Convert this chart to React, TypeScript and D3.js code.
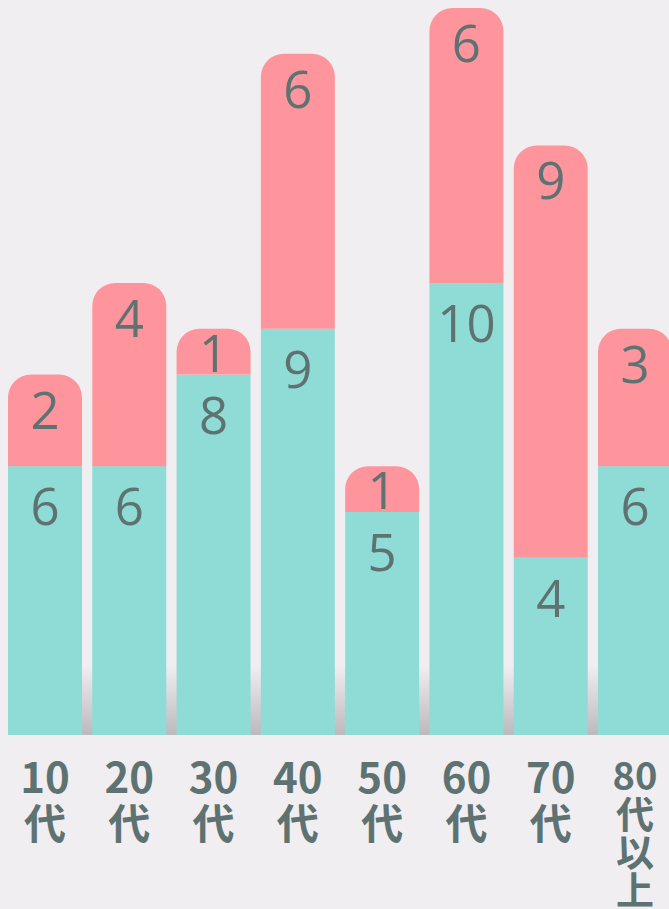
import React from "react";
import * as d3 from "d3";

const categories = ["10代", "20代", "30代", "40代", "50代", "60代", "70代", "80代以上"];
const tealValues = [6, 6, 8, 9, 5, 10, 4, 6];
const pinkValues = [2, 4, 1, 6, 1, 6, 9, 3];

const W = 669;
const H = 909;
const FLOOR = 735;
const TEAL = "#8fdbd5";
const PINK = "#fe959c";
const BG = "#f0eef1";
const TEXT = "#5f7272";

function topRoundedRect(x: number, y: number, w: number, h: number, r: number) {
  const rr = Math.min(r, w / 2, h);
  return `M${x},${y + h}V${y + rr}A${rr},${rr} 0 0 1 ${x + rr},${y}H${x + w - rr}A${rr},${rr} 0 0 1 ${x + w},${y + rr}V${y + h}Z`;
}

export default function App() {
  const x = d3.scaleBand<string>().domain(categories).range([8, 672]).paddingInner(0.122).paddingOuter(0);
  const y = d3.scaleLinear().domain([0, 16]).range([741, 8]);
  const bw = x.bandwidth();

  return (
    <svg
      width={W}
      height={H}
      style={{ position: "absolute", left: 0, top: 0, background: BG }}
    >
      <defs>
        <linearGradient id="floor" x1="0" y1="0" x2="0" y2="1">
          <stop offset="0" stopColor="#000" stopOpacity={0} />
          <stop offset="1" stopColor="#000" stopOpacity={0.22} />
        </linearGradient>
      </defs>
      <rect x={0} y={0} width={W} height={H} fill={BG} />
      <rect x={8} y={665} width={W - 8} height={FLOOR - 665} fill="url(#floor)" />
      {categories.map((c, i) => {
        const bx = x(c)!;
        const tTop = y(tealValues[i]);
        const pTop = y(tealValues[i] + pinkValues[i]);
        const pH = tTop - pTop;
        return (
          <g key={c}>
            <rect x={bx} y={tTop} width={bw} height={FLOOR - tTop} fill={TEAL} />
            <path d={topRoundedRect(bx, pTop, bw, pH, 23)} fill={PINK} />
            <text
              x={bx + bw / 2}
              y={pTop + Math.min(34, pH / 2)}
              textAnchor="middle"
              dominantBaseline="central"
              fontFamily="'Open Sans', sans-serif"
              fontSize={51}
              fill={TEXT}
            >
              {pinkValues[i]}
            </text>
            <text
              x={bx + bw / 2}
              y={tTop + 39}
              textAnchor="middle"
              dominantBaseline="central"
              fontFamily="'Open Sans', sans-serif"
              fontSize={51}
              fill={TEXT}
            >
              {tealValues[i]}
            </text>
          </g>
        );
      })}
      {categories.map((c) => {
        const m = c.match(/^(\d+)(.*)$/);
        const lines = m ? [m[1], ...Array.from(m[2])] : [c];
        const long = lines.length > 2;
        const fs = long ? 38 : 42;
        const lh = long ? 38 : 46;
        const y0 = long ? 790 : 793;
        return (
          <text
            key={c}
            x={x(c)! + bw / 2}
            textAnchor="middle"
            fontFamily="'Noto Sans CJK JP', sans-serif"
            fontWeight={700}
            fontSize={fs}
            fill={TEXT}
          >
            {lines.map((l, j) => (
              <tspan key={j} x={x(c)! + bw / 2} y={y0 + j * lh}>
                {l}
              </tspan>
            ))}
          </text>
        );
      })}
    </svg>
  );
}
